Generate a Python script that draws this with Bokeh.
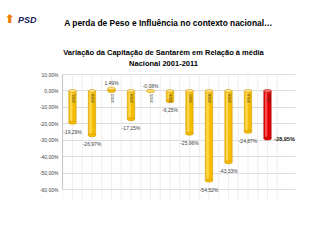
import math
from bokeh.plotting import figure
from bokeh.models import (ColumnDataSource, FixedTicker, Range1d, CustomJSTickFormatter, LinearAxis)
from bokeh.core.properties import value
from bokeh.embed import file_html
from bokeh.resources import INLINE

# ---- data ----
anos = ["2001", "2002", "2003", "2004", "2005", "2006", "2007", "2008", "2009", "2010", "2011"]
variacao = [-19.29, -26.97, 1.49, -17.15, -0.08, -6.25, -25.96, -54.52, -43.33, -24.87, -28.95]
rotulos = ["-19,29%", "-26,97%", "1,49%", "-17,15%", "-0,08%", "-6,25%", "-25,96%",
           "-54,52%", "-43,33%", "-24,87%", "-28,95%"]
y_ticks = [10, 0, -10, -20, -30, -40, -50, -60]
y_tick_labels = ["10,00%", "0,00%", "-10,00%", "-20,00%", "-30,00%", "-40,00%", "-50,00%", "-60,00%"]

titulo = "A perda de Peso e Influência no contexto nacional…"
subtitulo_1 = "Variação da Capitação de Santarém em Relação à média"
subtitulo_2 = "Nacional 2001-2011"
logo = "PSD"

FONT = "Liberation Sans"
n = len(anos)
idx = list(range(n))
destaque = n - 1  # last year highlighted in red

# ---- layout geometry (canvas pixels) ----
W, H = 320, 240
FL, FR, FT, FB = 62, 295, 0, 199          # frame edges
BAR0_PX, BAR_STEP_PX = 72, 19.5           # first bar centre, spacing
Y10_PX, PX_PER_PCT = 74, 125 / 76         # 10% line position, scale
X0 = -(BAR0_PX - FL) / BAR_STEP_PX
X1 = X0 + (FR - FL) / BAR_STEP_PX
Y1 = 10 + (Y10_PX - FT) / PX_PER_PCT
Y0 = 10 - (FB - Y10_PX) / PX_PER_PCT

def dx(px):
    return X0 + (px - FL) / BAR_STEP_PX

def dy(py):
    return Y1 - (py - FT) / PX_PER_PCT

p = figure(width=W, height=H, output_backend="svg", toolbar_location=None,
           x_range=Range1d(X0, X1), y_range=Range1d(Y0, Y1),
           min_border_left=FL, min_border_right=W - FR, min_border_top=FT, min_border_bottom=H - FB)
p.outline_line_color = None
p.background_fill_color = "white"
p.xaxis.visible = False
p.xgrid.visible = False
p.ygrid.ticker = FixedTicker(ticks=y_ticks)
p.ygrid.grid_line_color = "#D0D0D0"
p.ygrid.grid_line_width = 0.7

# vertical wall grid lines (between 10% and the bottom)
vx = [-0.5 + 0.5 * k for k in range(2 * n + 1)]
p.segment(x0=vx, x1=vx, y0=[Y0] * len(vx), y1=[10] * len(vx), line_color="#E3E3E3", line_width=0.6)

# y axis
ax = p.yaxis[0]
ax.ticker = FixedTicker(ticks=y_ticks)
ax.formatter = CustomJSTickFormatter(args=dict(t=y_ticks, l=y_tick_labels),
                                     code="const i = t.indexOf(tick); return i >= 0 ? l[i] : '';")
ax.bounds = (-60, 10)
ax.major_label_text_font = FONT
ax.major_label_text_font_size = "5px"
ax.major_label_text_color = "#404040"
ax.axis_line_color = "#C8C8C8"
ax.major_tick_line_color = None
ax.minor_tick_line_color = None
ax.major_tick_out = 0
ax.major_tick_in = 0
ax.minor_tick_out = 0
ax.minor_tick_in = 0
ax.major_label_standoff = 4

# logo (PSD text + orange arrow) in the left margin
def logo_axis(text, py, size, style, color, font, standoff):
    a = LinearAxis(ticker=FixedTicker(ticks=[dy(py)]),
                   formatter=CustomJSTickFormatter(args=dict(s=text), code="return s;"),
                   axis_line_color=None, major_tick_line_color=None, minor_tick_line_color=None,
                   major_tick_out=0, major_tick_in=0, minor_tick_out=0, minor_tick_in=0,
                   major_label_standoff=standoff, major_label_text_font=font,
                   major_label_text_font_size=size, major_label_text_font_style=style,
                   major_label_text_color=color)
    p.add_layout(a, "left")

logo_axis(logo, 19, "9px", "bold italic", "#1B1B5E", FONT, 0)
logo_axis("⬆", 18, "12px", "bold", "#F07800", "DejaVu Sans", 0)

# ---- bars (cylinder-like) ----
cor = ["#E00000" if i == destaque else "#F5BC00" for i in idx]
cor_linha = ["#A00000" if i == destaque else "#C89000" for i in idx]
cor_brilho = ["#FF4A4A" if i == destaque else "#FFD84D" for i in idx]
cor_topo = ["#FF7070" if i == destaque else "#FFE27A" for i in idx]
topo = [max(v, 0) for v in variacao]
base = [min(v, 0) for v in variacao]

lab_x = [i + (0.35 if i == destaque else 0) for i in idx]
lab_align = ["left" if i == destaque else "center" for i in idx]
lab_y_off = [0 if i == destaque else (-5 if variacao[i] > -1 else 9) for i in idx]
lab_style = ["bold" if i == destaque else "normal" for i in idx]
lab_size = ["5.5px" if i == destaque else "5px" for i in idx]
lab_color = ["#222222" if i == destaque else "#404040" for i in idx]

src = ColumnDataSource(dict(x=idx, v=variacao, top=topo, base=base, cor=cor, cor_linha=cor_linha,
                            brilho_x=[i - 0.07 for i in idx], cor_brilho=cor_brilho, cor_topo=cor_topo,
                            rot=rotulos, lab_x=lab_x, lab_y_off=lab_y_off, lab_align=lab_align,
                            lab_style=lab_style, lab_size=lab_size, lab_color=lab_color,
                            ano=anos, ano_x=[i + 0.03 for i in idx], zero=[0] * n))

p.vbar(x="x", top="top", bottom="base", width=0.38, source=src,
       fill_color="cor", line_color="cor_linha", line_width=0.5)
p.vbar(x="brilho_x", top="top", bottom="base", width=0.12, source=src,
       fill_color="cor_brilho", line_color=None)
p.ellipse(x="x", y="base", width=0.38, height=3, height_units="screen", source=src,
          fill_color="cor", line_color="cor_linha", line_width=0.5)
p.ellipse(x="x", y="top", width=0.38, height=3, height_units="screen", source=src,
          fill_color="cor_topo", line_color="cor_linha", line_width=0.5)

# year labels rotated on the bars
p.text(x="ano_x", y="zero", text="ano", source=src, angle=math.pi / 2, text_align="right",
       text_baseline="middle", y_offset=3, text_font=value(FONT), text_font_size="4px",
       text_color="#333333")

# value labels
p.text(x="lab_x", y="v", text="rot", source=src, y_offset="lab_y_off", text_align="lab_align",
       text_baseline="middle", text_font=value(FONT), text_font_size="lab_size",
       text_font_style="lab_style", text_color="lab_color")

# ---- titles ----
tsrc = ColumnDataSource(dict(x=[dx(168), dx(163), dx(163)], y=[dy(22), dy(52), dy(63)],
                             t=[titulo, subtitulo_1, subtitulo_2], s=["8.4px", "7.5px", "7.5px"]))
p.text(x="x", y="y", text="t", source=tsrc, text_align="center", text_baseline="middle",
       text_font=value(FONT), text_font_size="s", text_font_style="bold", text_color="#000000")

open("out.html", "w").write(file_html(p, INLINE))
